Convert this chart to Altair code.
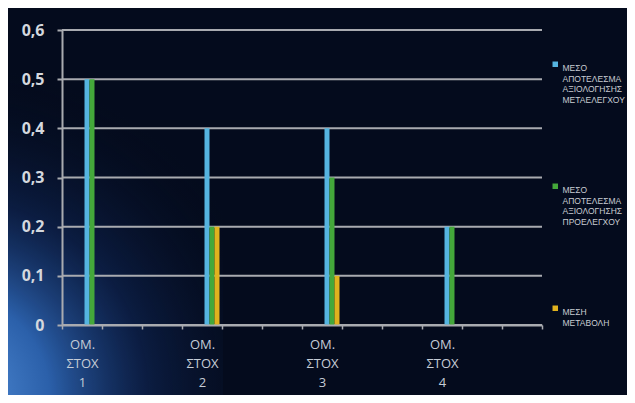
import altair as alt
import pandas as pd

# ---- data ----
slots = ["ΟΜ. ΣΤΟΧ 1", "_2", "_3", "ΟΜ. ΣΤΟΧ 2", "_5", "_6",
         "ΟΜ. ΣΤΟΧ 3", "_8", "_9", "ΟΜ. ΣΤΟΧ 4", "_11", "_12"]
groups = ["ΟΜ. ΣΤΟΧ 1", "ΟΜ. ΣΤΟΧ 2", "ΟΜ. ΣΤΟΧ 3", "ΟΜ. ΣΤΟΧ 4"]
series = ["ΜΕΣΟ ΑΠΟΤΕΛΕΣΜΑ ΑΞΙΟΛΟΓΗΣΗΣ ΜΕΤΑΕΛΕΓΧΟΥ",
          "ΜΕΣΟ ΑΠΟΤΕΛΕΣΜΑ ΑΞΙΟΛΟΓΗΣΗΣ ΠΡΟΕΛΕΓΧΟΥ",
          "ΜΕΣΗ ΜΕΤΑΒΟΛΗ"]
post = [0.5, 0.4, 0.4, 0.2]
pre = [0.5, 0.2, 0.3, 0.2]
change = [0.0, 0.2, 0.1, 0.0]
colors = ["#55b4e0", "#44a83a", "#e0b21e"]
y_ticks = [0, 0.1, 0.2, 0.3, 0.4, 0.5, 0.6]
offset_pad = ["_a", "_b", "_c", "_d"]

rows = []
for g, a, b, c in zip(groups, post, pre, change):
    for s, v in zip(series, [a, b, c]):
        rows.append({"group": g, "series": s, "value": v})
df = pd.DataFrame(rows)
grid_df = pd.DataFrame({"value": y_ticks})

W, H = 480, 295
PL, PT = 54, 22
TOTW, TOTH = 619, 387

grid_col = "#a9abb0"

y_axis = alt.Axis(
    title=None, values=y_ticks, zindex=1,
    labelExpr="datum.value == 0 ? '0' : replace(format(datum.value, '.1f'), '.', ',')",
    labelFontSize=16, labelFontWeight="bold", labelColor="#d4d8de",
    labelFont="Open Sans", labelPadding=13, grid=False,
    tickSize=5, tickColor=grid_col, tickWidth=2,
    domainColor=grid_col, domainWidth=2)
y_scale = alt.Scale(domain=[0, 0.6], nice=False)

bg = alt.Chart(alt.Data(values=[{}])).mark_rect(
    fill={
        "gradient": "radial",
        "x1": 0, "y1": 1, "r1": 0,
        "x2": 0, "y2": 1, "r2": 1,
        "stops": [
            {"offset": 0, "color": "#5592dc"},
            {"offset": 0.3, "color": "#2b60aa"},
            {"offset": 0.6, "color": "rgba(18,45,100,0.5)"},
            {"offset": 1, "color": "rgba(4,11,29,0)"},
        ],
    }
).encode(
    x=alt.value(-PL), x2=alt.value(-PL + 215),
    y=alt.value(TOTH - PT - 330), y2=alt.value(TOTH - PT),
)

grid = alt.Chart(grid_df).mark_rule(color=grid_col, strokeWidth=2).encode(
    y=alt.Y("value:Q", scale=y_scale, axis=y_axis)
)

bars = alt.Chart(df).mark_bar().encode(
    x=alt.X("group:N", scale=alt.Scale(domain=slots, paddingInner=0, paddingOuter=0),
            axis=alt.Axis(
                title=None, labelAngle=0, zindex=1,
                labelExpr="indexof(datum.label, '_') == 0 ? '' : split(datum.label, ' ')",
                labelLineHeight=19, labelFontSize=13, labelColor="#c4ccd6",
                labelFont="Open Sans", labelPadding=9,
                tickBand="extent", tickSize=4, tickColor=grid_col, tickWidth=1.5,
                domainColor=grid_col, domainWidth=2, grid=False)),
    xOffset=alt.XOffset("series:N",
                        scale=alt.Scale(domain=offset_pad + series,
                                        paddingInner=0, paddingOuter=0.5)),
    y=alt.Y("value:Q", scale=y_scale, axis=y_axis),
    color=alt.Color("series:N", scale=alt.Scale(domain=series, range=colors),
                    legend=alt.Legend(
                        orient="none", legendX=489, legendY=30, title=None,
                        symbolType="square", symbolSize=30, symbolStrokeWidth=0,
                        labelFontSize=8.5, labelColor="#c8ccd2", labelFont="Liberation Sans",
                        labelExpr="split(datum.label, ' ')", labelLimit=300,
                        labelBaseline="top", labelOffset=3,
                        rowPadding=77, padding=0)),
)

chart = alt.layer(bg, grid, bars).properties(
    width=W, height=H,
    autosize=alt.AutoSizeParams(type="none"),
    padding={"left": PL, "top": PT, "right": TOTW - PL - W, "bottom": TOTH - PT - H},
    background="#040b1d",
).configure_view(stroke=None)

chart.save("out.html", embed_options={"renderer": "svg", "actions": False})
